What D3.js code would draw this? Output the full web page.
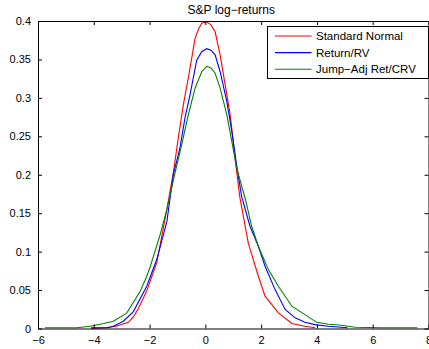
<html>
<title>S&amp;P log-returns</title>
<script src="https://d3js.org/d3.v7.min.js"></script>
<style>
  body { margin:0; background:white; }
  svg { display:block; font-family:"Liberation Sans", Arial, Helvetica, sans-serif; }
</style>
<body>
<svg width=429 height=349></svg>
<script>
// x positions and densities, one pair of arrays per curve
var normX = [-4.1,-3.6,-3.2,-2.76,-2.58,-2.4,-2.1,-1.74,-1.38,-1.15,-0.97,-0.79,-0.61,-0.37,-0.25,-0.13,0.05,0.2,0.35,0.53,0.71,0.89,1.0,1.12,1.24,1.54,1.9,2.14,2.62,3.1,3.57,3.93];
var normY = [0,0.001,0.003,0.008,0.015,0.026,0.049,0.086,0.155,0.202,0.248,0.291,0.326,0.377,0.389,0.397,0.399,0.395,0.386,0.356,0.317,0.278,0.243,0.205,0.17,0.111,0.068,0.042,0.0204,0.0065,0.003,0.001];

var rvX = [-4.1,-3.5,-3.3,-2.94,-2.58,-2.1,-1.74,-1.38,-1.15,-0.91,-0.73,-0.55,-0.31,-0.13,0.05,0.2,0.35,0.53,0.77,0.95,1.12,1.3,1.6,1.9,2.14,2.5,2.86,3.22,3.57,3.93,4.4,5.1];
var rvY = [0.001,0.001,0.003,0.0095,0.022,0.055,0.09,0.139,0.2,0.235,0.274,0.304,0.349,0.36,0.364,0.362,0.356,0.334,0.295,0.256,0.213,0.172,0.133,0.107,0.081,0.0506,0.0247,0.0139,0.008,0.005,0.003,0.001];

var crvX = [-5.75,-4.6,-4.13,-3.65,-3.3,-2.82,-2.34,-2.1,-1.98,-1.62,-1.38,-1.09,-0.85,-0.61,-0.37,-0.13,0.05,0.2,0.35,0.53,0.77,0.95,1.12,1.44,1.66,1.9,2.26,2.62,3.1,3.57,3.99,4.41,4.89,5.37,6.32,7.6];
var crvY = [0.001,0.001,0.003,0.0065,0.0095,0.02,0.048,0.068,0.08,0.122,0.155,0.202,0.239,0.278,0.3126,0.334,0.341,0.339,0.332,0.3126,0.278,0.243,0.209,0.1675,0.133,0.107,0.0766,0.055,0.029,0.018,0.008,0.0055,0.0043,0.0017,0.001,0.001];

var seriesNames = ["Standard Normal","Return/RV","Jump\u2212Adj Ret/CRV"];
var seriesColors = ["#ff0000","#0000ff","#008000"];
var xTicks = [-6,-4,-2,0,2,4,6,8];
var yTicks = [0,0.05,0.1,0.15,0.2,0.25,0.3,0.35,0.4];
var titleText = "S&P log\u2212returns";

var plotL=38, plotR=428.5, plotT=21, plotB=328.5;
var xs=d3.scaleLinear().domain([-6,8]).range([plotL,plotR]);
var ys=d3.scaleLinear().domain([0,0.4]).range([plotB,plotT]);

var svg=d3.select("svg");
var fmt=function(d){ return (d+"").replace("-","\u2212"); };

var series=[[normX,normY],[rvX,rvY],[crvX,crvY]];
var line=d3.line().x(function(d){return xs(d[0]);}).y(function(d){return ys(d[1]);});

// curves
series.forEach(function(s,i){
  var pts=s[0].map(function(x,j){return [x,s[1][j]];});
  svg.append("path").datum(pts)
    .attr("d",line)
    .attr("fill","none")
    .attr("stroke",seriesColors[i])
    .attr("stroke-width",1.1);
});

// box and inward ticks on all four sides
svg.append("g").attr("transform","translate(0,"+plotB+")")
  .call(d3.axisBottom(xs).tickValues(xTicks).tickSizeInner(-4).tickSizeOuter(0).tickPadding(8).tickFormat(fmt));
svg.append("g").attr("transform","translate(0,"+plotT+")")
  .call(d3.axisTop(xs).tickValues(xTicks).tickSizeInner(-4).tickSizeOuter(0).tickFormat(""));
svg.append("g").attr("transform","translate("+plotL+",0)")
  .call(d3.axisLeft(ys).tickValues(yTicks).tickSizeInner(-4).tickSizeOuter(0).tickPadding(7).tickFormat(function(d){return d3.format("~g")(d);}));
svg.append("g").attr("transform","translate("+plotR+",0)")
  .call(d3.axisRight(ys).tickValues(yTicks).tickSizeInner(-4).tickSizeOuter(0).tickFormat(""));

svg.selectAll(".domain").attr("stroke","black");
svg.selectAll(".tick line").attr("stroke","black");
svg.selectAll(".tick text").attr("fill","black").style("font-size","11px")
  .style("font-family","'Liberation Sans', Arial, sans-serif");

// title
svg.append("text")
  .attr("x",(plotL+plotR)/2-2).attr("y",14)
  .attr("text-anchor","middle")
  .style("font-size","12px")
  .text(titleText);

// legend
var lg=svg.append("g");
lg.append("rect")
  .attr("x",267.5).attr("y",26.5).attr("width",161).attr("height",52)
  .attr("fill","white").attr("stroke","black").attr("stroke-width",1);
seriesNames.forEach(function(n,i){
  var yy=36+i*16.6;
  lg.append("line").attr("x1",275).attr("x2",311.5).attr("y1",yy).attr("y2",yy)
    .attr("stroke",seriesColors[i]).attr("stroke-width",1.1);
  lg.append("text").attr("x",316).attr("y",yy+4)
    .style("font-size","11.5px").text(n);
});
</script>
</body>
</html>
